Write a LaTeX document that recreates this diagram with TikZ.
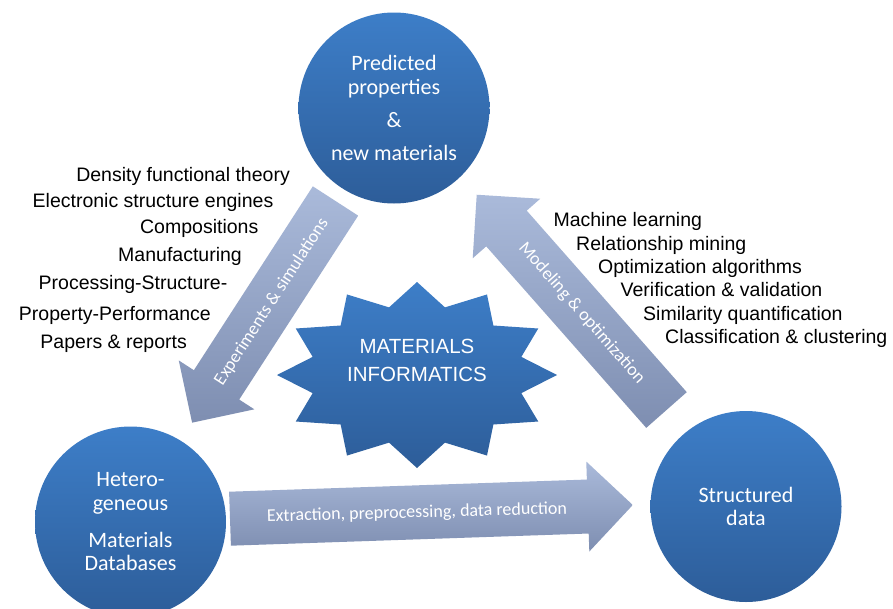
\documentclass[tikz,border=0pt]{standalone}
\usepackage{fontspec}
\setmainfont{Liberation Sans}
\newfontfamily\calib{Carlito}

\definecolor{blobtop}{RGB}{61,126,200}
\definecolor{blobbot}{RGB}{45,93,153}
\definecolor{arrtop}{RGB}{170,186,218}
\definecolor{arrbot}{RGB}{126,142,177}

\tikzset{
  blob/.style={circle,minimum size=191pt,inner sep=0pt,top color=blobtop,bottom color=blobbot,
    text=white,align=center,font=\calib\fontsize{22}{23.5}\selectfont},
  listtext/.style={font=\fontsize{19.5}{23}\selectfont,inner sep=0pt},
  arrtext/.style={text=white,font=\calib\fontsize{18}{21}\selectfont,inner sep=0pt}
}

% tail x, tail y, angle, length
\newcommand{\blockarrow}[4]{%
  \begin{scope}[shift={(#1,#2)},rotate=#3]
    \shade[top color=arrtop,bottom color=arrbot]
      (0,-27) -- (#4-45,-27) -- (#4-45,-45) -- (#4,0) -- (#4-45,45) -- (#4-45,27) -- (0,27) -- cycle;
  \end{scope}}

\begin{document}
\begin{tikzpicture}[x=1pt,y=-1pt]
  \useasboundingbox (0,0) rectangle (893,608);
  \fill[white] (0,0) rectangle (893,608);

  % the three cycle arrows
  \blockarrow{335.5}{201}{-122.9}{264}
  \blockarrow{666.5}{410}{131.4}{287}
  \blockarrow{230}{518.7}{1.95}{403}

  \node[arrtext,rotate=57.1] (expsim) at (271.7,301.7) {Experiments \& simulations};
  \node[arrtext,rotate=-48.6] (modopt) at (581.7,313.3) {Modeling \& optimization};
  \node[arrtext,rotate=1.5] (extract) at (417,513) {Extraction, preprocessing, data reduction};

  % star in the middle
  \begin{scope}[shift={(417,375)}]
    \shade[top color=blobtop,bottom color=blobbot] (0:140 and 93)
      \foreach \a in {0,30,...,330}{ -- (\a+15:108 and 70) -- (\a+30:140 and 93)} -- cycle;
  \end{scope}
  \node[text=white,align=center,inner sep=0pt,font=\fontsize{20.5}{28}\selectfont] (mi) at (417,360) {MATERIALS\\INFORMATICS};

  % circles
  \node[blob] (pred) at (394,108) {Predicted\\properties\\[10pt]\&\\[9.5pt]new materials};
  \node[blob] (hetero) at (130.5,522) {Hetero-\\geneous\\[13.5pt]Materials\\Databases};
  \node[blob] (struct) at (746,506.5) {Structured\\data};

  % left list
  \node[listtext,anchor=base east] (dft) at (290,181.7) {Density functional theory};
  \node[listtext,anchor=base east] (ese) at (273.5,207.3) {Electronic structure engines};
  \node[listtext,anchor=base east] (comp) at (258.5,233.3) {Compositions};
  \node[listtext,anchor=base east] (manu) at (242,261) {Manufacturing};
  \node[listtext,anchor=base east] (pss) at (227.5,289) {Processing-Structure-};
  \node[listtext,anchor=base east] (ppp) at (211,320.7) {Property-Performance};
  \node[listtext,anchor=base east] (papers) at (187,348.3) {Papers \& reports};

  % right list
  \node[listtext,anchor=base west] (ml) at (553.3,226.7) {Machine learning};
  \node[listtext,anchor=base west] (rm) at (576,250.3) {Relationship mining};
  \node[listtext,anchor=base west] (oa) at (598,273.3) {Optimization algorithms};
  \node[listtext,anchor=base west] (vv) at (620.5,296.7) {Verification \& validation};
  \node[listtext,anchor=base west] (sq) at (643,320) {Similarity quantification};
  \node[listtext,anchor=base west] (cc) at (665,343.5) {Classification \& clustering};
\end{tikzpicture}
\end{document}
